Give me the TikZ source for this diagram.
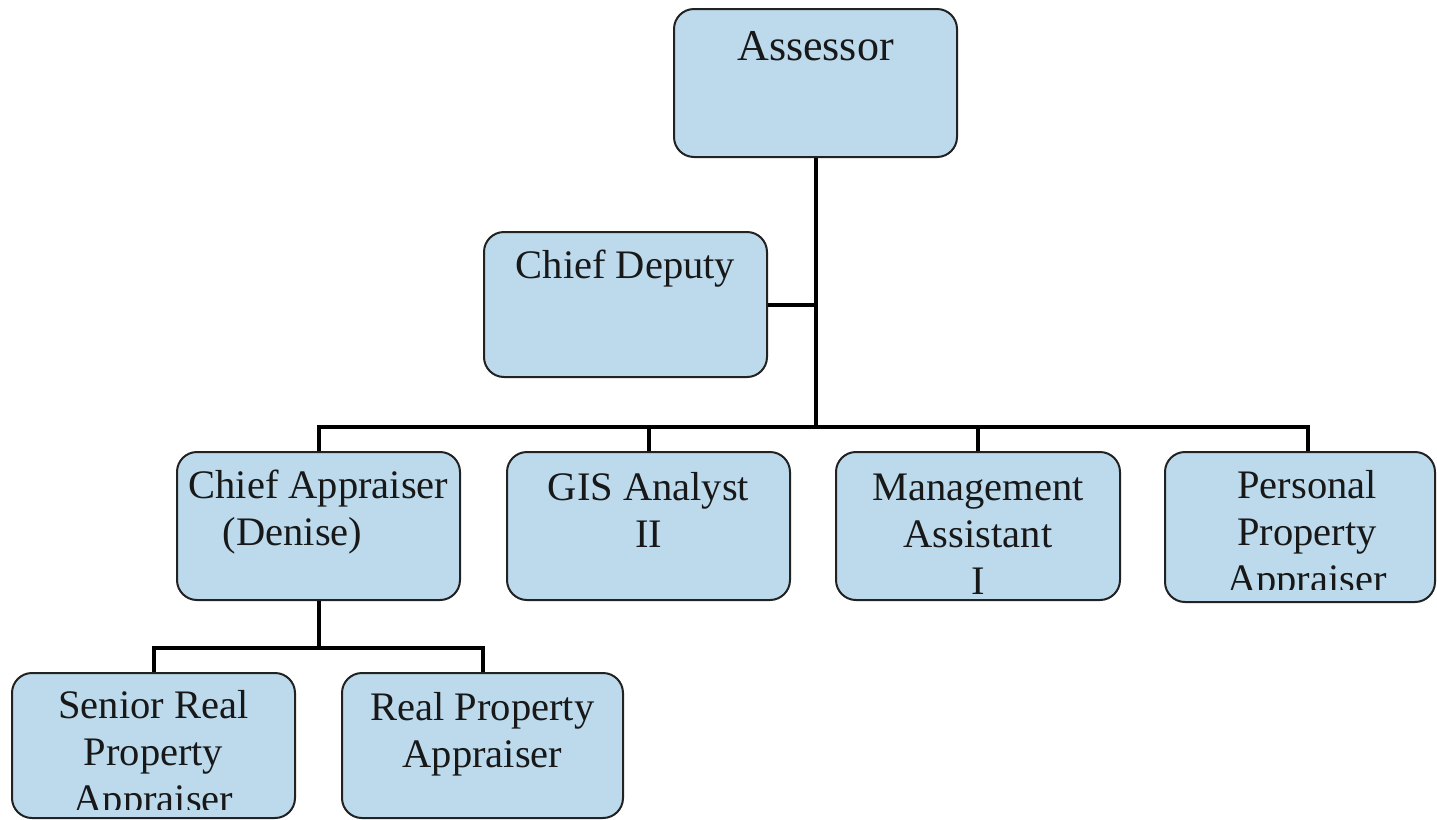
\documentclass[tikz,border=0pt]{standalone}
\usepackage{fontspec}
\setmainfont{Liberation Serif}
\usetikzlibrary{fit}
\definecolor{boxblue}{RGB}{188,218,236}
\definecolor{edgecol}{RGB}{34,34,34}
\definecolor{ink}{RGB}{24,24,24}
\newcommand{\boxlines}[1]{\begin{tabular}[t]{@{}c@{}}#1\end{tabular}}
\begin{document}
\begin{tikzpicture}[x=0.5pt,y=-0.5pt,
  box/.style={draw=edgecol, line width=1pt, fill=boxblue, rounded corners=10pt, inner sep=0pt},
  conn/.style={draw=black, line width=2pt, line join=miter},
  txt/.style={inner sep=0pt, anchor=base, text=ink, font=\fontsize{20.25}{23.5}\selectfont},
  bigtxt/.style={txt, font=\fontsize{22}{26}\selectfont}]
\useasboundingbox (0,0) rectangle (1437,820);
\fill[white] (0,0) rectangle (1437,820);

% boxes
\node[box, fit={(674,9) (957,157)}] (assessor) {};
\node[box, fit={(484,232) (767,377)}] (deputy) {};
\node[box, fit={(177,452) (460,600)}] (chiefapp) {};
\node[box, fit={(507,452) (790,600)}] (gis) {};
\node[box, fit={(836,452) (1120,600)}] (mgmt) {};
\node[box, fit={(1165,452) (1435,602)}] (ppa) {};
\node[box, fit={(12,673) (295,818)}] (senior) {};
\node[box, fit={(342,673) (623,818)}] (rpa) {};

% texts
\node[bigtxt] (assessorT) at (815.5,60) {Assessor};
\node[txt] (deputyT) at (625.5,278) {Chief Deputy};
\node[txt] (chiefappT) at (318.5,498) {\boxlines{Chief Appraiser\\(Denise)\hspace*{26pt}}};
\node[txt] (gisT) at (648.5,500) {\boxlines{GIS Analyst\\II}};
\node[txt] (mgmtT) at (978,500) {\boxlines{Management\\Assistant\\I}};
\begin{scope}
  \clip (1165,452) rectangle (1435,589);
  \node[txt] (ppaT) at (1307,498) {\boxlines{Personal\\Property\\Appraiser}};
\end{scope}
\begin{scope}
  \clip (12,673) rectangle (295,809);
  \node[txt] (seniorT) at (153.5,718) {\boxlines{Senior Real\\Property\\Appraiser}};
\end{scope}
\node[txt] (rpaT) at (482.5,720) {\boxlines{Real Property\\Appraiser}};

% connectors
\coordinate (hub) at (815.5,427);
\coordinate (hub2) at (318.5,648);
\draw[conn] (assessor.south) -- (hub);
\draw[conn] (deputy.east) -- (deputy.east -| hub);
\draw[conn] (chiefapp.north) |- (hub) -| ([xshift=4pt]ppa.north);
\draw[conn] (gis.north) -- (gis.north |- hub);
\draw[conn] (mgmt.north) -- (mgmt.north |- hub);
\draw[conn] (chiefapp.south) -- (hub2);
\draw[conn] (senior.north) |- (hub2) -| (rpa.north);
\end{tikzpicture}
\end{document}
